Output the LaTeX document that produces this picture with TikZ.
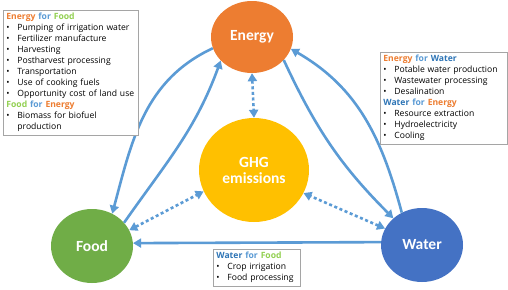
\documentclass[tikz,border=0pt]{standalone}
\usepackage{fontspec}
\setmainfont{Carlito}
\newfontfamily\boxfont{Open Sans}
\usetikzlibrary{shapes.geometric,arrows.meta}
\definecolor{cenergy}{RGB}{237,125,49}
\definecolor{cfood}{RGB}{112,173,71}
\definecolor{cwater}{RGB}{68,114,196}
\definecolor{cghg}{RGB}{255,192,0}
\definecolor{carrow}{RGB}{91,155,213}
\definecolor{tfor}{RGB}{91,155,213}
\definecolor{twater}{RGB}{46,117,182}
\definecolor{tfood}{RGB}{146,208,80}
\definecolor{cbox}{RGB}{165,165,165}
\newcommand{\bitem}[1]{\makebox[11pt][l]{•}#1}
\begin{document}
\begin{tikzpicture}[x=1pt,y=-1pt,
  hub/.style={ellipse,draw=none,text=white,font=\fontsize{15.5}{17}\selectfont\bfseries,align=center,inner sep=0pt},
  flow/.style={draw=carrow,line width=2.6pt,-{Triangle[length=8pt,width=9pt]}},
  dotflow/.style={draw=carrow,line width=2.6pt,dash pattern=on 3pt off 2.6pt,{Triangle[length=8pt,width=9pt]}-{Triangle[length=8pt,width=9pt]}},
  infobox/.style={draw=cbox,line width=0.8pt,fill=white,anchor=north west,align=left,inner sep=3pt,font=\boxfont\fontsize{8.6}{11}\selectfont}
]
\useasboundingbox[fill=white] (0,0) rectangle (508,289);
\node[hub,fill=cenergy,minimum width=82pt,minimum height=72pt] (energy) at (252,37) {Energy};
\node[hub,fill=cghg,minimum width=110pt,minimum height=104pt] (ghg) at (254,170) {GHG\\[-1pt]emissions};
\node[hub,fill=cfood,minimum width=82pt,minimum height=74pt] (food) at (92,246) {Food};
\node[hub,fill=cwater,minimum width=82pt,minimum height=74pt] (water) at (422,245) {Water};

\draw[flow] (energy.196) to[out=205,in=75] (food.58);
\draw[flow] (food.36) to[out=55,in=250] (energy.217);
\draw[flow] (water.122) to[out=105,in=330] (energy.343);
\draw[flow] (energy.324) to[out=295,in=135] (water.137);
\draw[flow] (water.176) -- (food.4);

\draw[dotflow] (energy.south) -- (ghg.north);
\draw[dotflow] (food.23) -- (ghg.203);
\draw[dotflow] (water.156) -- (ghg.335);

\node[infobox,text width=129pt] (efbox) at (3,10) {%
{\bfseries\color{cenergy}Energy} {\bfseries\color{tfor}for} {\bfseries\color{tfood}Food}\\
\bitem{Pumping of irrigation water}\\
\bitem{Fertilizer manufacture}\\
\bitem{Harvesting}\\
\bitem{Postharvest processing}\\
\bitem{Transportation}\\
\bitem{Use of cooking fuels}\\
\bitem{Opportunity cost of land use}\\
{\bfseries\color{tfood}Food} {\bfseries\color{tfor}for} {\bfseries\color{cenergy}Energy}\\
\bitem{Biomass for biofuel}\\
\hspace*{11pt}production};

\node[infobox,text width=121pt] (ewbox) at (380,52) {%
{\bfseries\color{cenergy}Energy} {\bfseries\color{tfor}for} {\bfseries\color{twater}Water}\\
\bitem{Potable water production}\\
\bitem{Wastewater processing}\\
\bitem{Desalination}\\
{\bfseries\color{twater}Water} {\bfseries\color{tfor}for} {\bfseries\color{cenergy}Energy}\\
\bitem{Resource extraction}\\
\bitem{Hydroelectricity}\\
\bitem{Cooling}};

\node[infobox,text width=81pt] (wfbox) at (213,249) {%
{\bfseries\color{twater}Water} {\bfseries\color{tfor}for} {\bfseries\color{tfood}Food}\\
\bitem{Crop irrigation}\\
\bitem{Food processing}};
\end{tikzpicture}
\end{document}
